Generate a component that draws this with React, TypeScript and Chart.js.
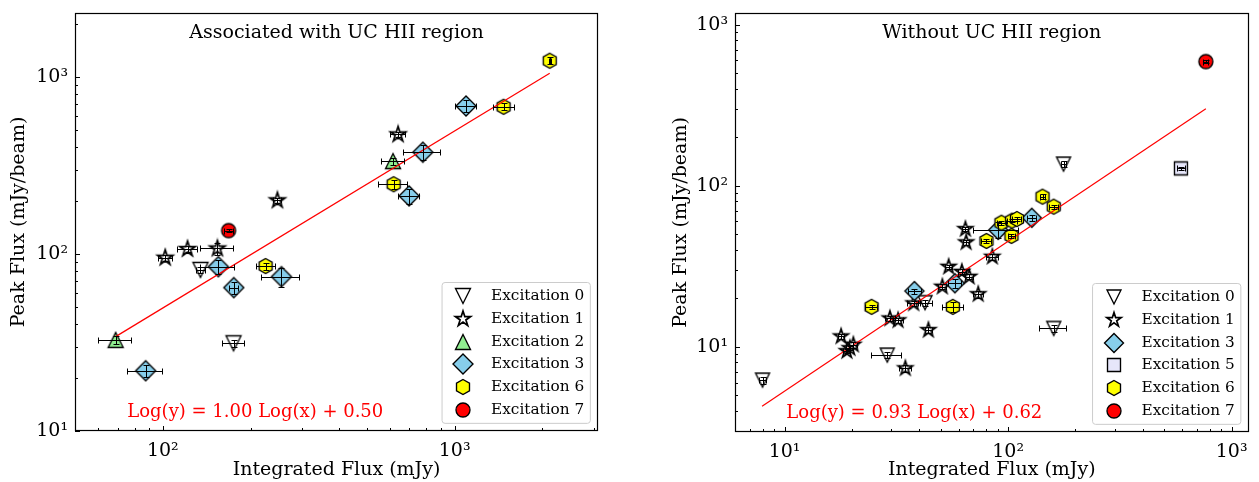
import { useEffect, useRef } from "react";
import { Chart, registerables } from "chart.js";

Chart.register(...registerables);

const SERIF = "'DejaVu Serif', 'Liberation Serif', serif";

// ---------- Panel 1: sources associated with a UC HII region ----------
const UC_EXC0_X = [134.6, 174.7];
const UC_EXC0_Y = [81.3, 31.3];
const UC_EXC0_XERR = [5, 15];
const UC_EXC0_YERR = [3, 1.5];

const UC_EXC1_X = [101.9, 121.5, 153.8, 247, 640];
const UC_EXC1_Y = [95.3, 106.7, 107.5, 201, 474];
const UC_EXC1_XERR = [6, 9.5, 19.5, 8, 38];
const UC_EXC1_YERR = [4, 4, 8.5, 7, 16];

const UC_EXC2_X = [68.9, 615];
const UC_EXC2_Y = [32.7, 335];
const UC_EXC2_XERR = [9, 55];
const UC_EXC2_YERR = [1.5, 15];

const UC_EXC3_X = [87.3, 155, 175, 255, 698, 778, 1094];
const UC_EXC3_Y = [21.9, 84.8, 64.6, 74.5, 213, 376, 686];
const UC_EXC3_XERR = [12, 21, 6, 38, 58, 110, 90];
const UC_EXC3_YERR = [1.8, 8, 5, 9, 21, 37, 54];

const UC_EXC6_X = [225, 618, 1472, 2118];
const UC_EXC6_Y = [85.5, 248, 679, 1236];
const UC_EXC6_XERR = [17, 70, 120, 20];
const UC_EXC6_YERR = [4, 14, 30, 55];

const UC_EXC7_X = [168];
const UC_EXC7_Y = [135.6];
const UC_EXC7_XERR = [6];
const UC_EXC7_YERR = [3];

const UC_FIT_SLOPE = 1.0;
const UC_FIT_OFFSET = -0.305;
const UC_FIT_RANGE = [68.9, 2118];
const UC_FIT_LABEL = "Log(y) = 1.00 Log(x) + 0.50";

// ---------- Panel 2: sources without a UC HII region ----------
const NO_EXC0_X = [7.97, 28.8, 42.5, 160, 177];
const NO_EXC0_Y = [6.21, 8.88, 18.8, 13.0, 136];
const NO_EXC0_XERR = [0.3, 4.5, 3, 22, 4];
const NO_EXC0_YERR = [0.3, 0.4, 0.8, 0.6, 6];

const NO_EXC1_X = [17.9, 19.0, 19.6, 20.3, 29.6, 32.2, 34.7, 37.8, 44.0, 50.8, 54.2, 62.1, 64.4, 64.9, 67.0, 73.5, 85.0];
const NO_EXC1_Y = [11.6, 9.4, 9.8, 10.3, 15.0, 14.6, 7.35, 18.6, 12.7, 23.6, 31.4, 29.2, 53.8, 44.5, 27.2, 21.2, 36.2];
const NO_EXC1_XERR = [0.6, 0.7, 0.7, 0.8, 1.5, 1.6, 2.1, 2.5, 1.6, 2, 2, 2.5, 2, 2, 3, 3.5, 5];
const NO_EXC1_YERR = [0.4, 0.3, 0.3, 0.4, 0.5, 0.5, 0.4, 0.7, 0.5, 0.9, 1, 1, 1.5, 1.5, 1, 1, 1.5];

const NO_EXC3_X = [38.1, 57.8, 90.3, 127.6];
const NO_EXC3_Y = [22.2, 24.8, 53.1, 63.2];
const NO_EXC3_XERR = [2.5, 4, 21, 6];
const NO_EXC3_YERR = [0.8, 1.5, 6, 3];

const NO_EXC5_X = [593];
const NO_EXC5_Y = [128];
const NO_EXC5_XERR = [25];
const NO_EXC5_YERR = [3];

const NO_EXC6_X = [24.5, 56.6, 80, 93.4, 103.5, 104.2, 109.6, 142.6, 160];
const NO_EXC6_Y = [17.7, 17.7, 45.4, 58.9, 48.8, 60.7, 62.1, 85.5, 74.1];
const NO_EXC6_XERR = [1.5, 6, 4, 4, 4, 5, 5, 4, 8];
const NO_EXC6_YERR = [0.6, 1.2, 1.2, 1.5, 1.2, 1.5, 1.5, 3, 2];

const NO_EXC7_X = [767];
const NO_EXC7_Y = [589];
const NO_EXC7_XERR = [20];
const NO_EXC7_YERR = [15];

const NO_FIT_SLOPE = 0.93;
const NO_FIT_OFFSET = -0.205;
const NO_FIT_RANGE = [7.93, 767];
const NO_FIT_LABEL = "Log(y) = 0.93 Log(x) + 0.62";

// Axis tick labels (powers of ten)
const POW_LABELS: Record<number, string> = { 10: "10\u00b9", 100: "10\u00b2", 1000: "10\u00b3" };
const UC_X_MAJOR = [100, 1000];
const UC_Y_MAJOR = [10, 100, 1000];
const NO_X_MAJOR = [10, 100, 1000];
const NO_Y_MAJOR = [10, 100, 1000];

const X_TITLE = "Integrated Flux (mJy)";
const Y_TITLE = "Peak Flux (mJy/beam)";

// ---------- marker glyphs ----------
type Shape = "star" | "hexagon" | "triDown" | "triUp" | "diamond" | "square" | "circle";

function markerImage(shape: Shape, fill: string, r: number): HTMLCanvasElement {
  const lw = shape === "star" ? 1.7 : 1.35;
  const size = 2 * Math.ceil(r + lw + 1);
  const c = document.createElement("canvas");
  c.width = size;
  c.height = size;
  const ctx = c.getContext("2d")!;
  ctx.translate(size / 2, size / 2);
  ctx.beginPath();
  if (shape === "circle") {
    ctx.arc(0, 0, r, 0, Math.PI * 2);
  } else if (shape === "square") {
    ctx.rect(-r, -r, 2 * r, 2 * r);
  } else if (shape === "diamond") {
    ctx.moveTo(0, -r);
    ctx.lineTo(r, 0);
    ctx.lineTo(0, r);
    ctx.lineTo(-r, 0);
    ctx.closePath();
  } else if (shape === "triUp") {
    ctx.moveTo(0, -r);
    ctx.lineTo(r, r);
    ctx.lineTo(-r, r);
    ctx.closePath();
  } else if (shape === "triDown") {
    ctx.moveTo(0, r);
    ctx.lineTo(r, -r);
    ctx.lineTo(-r, -r);
    ctx.closePath();
  } else if (shape === "hexagon") {
    for (let k = 0; k < 6; k++) {
      const a = -Math.PI / 2 + (k * Math.PI) / 3;
      const px = r * Math.cos(a);
      const py = r * Math.sin(a);
      if (k === 0) ctx.moveTo(px, py);
      else ctx.lineTo(px, py);
    }
    ctx.closePath();
  } else {
    const inner = r * 0.381966;
    for (let k = 0; k < 10; k++) {
      const a = -Math.PI / 2 + (k * Math.PI) / 5;
      const rr = k % 2 === 0 ? r : inner;
      const px = rr * Math.cos(a);
      const py = rr * Math.sin(a);
      if (k === 0) ctx.moveTo(px, py);
      else ctx.lineTo(px, py);
    }
    ctx.closePath();
  }
  ctx.fillStyle = fill;
  ctx.fill();
  ctx.lineWidth = lw;
  ctx.lineJoin = "miter";
  ctx.strokeStyle = "#000";
  ctx.stroke();
  return c;
}

type Group = {
  label: string;
  shape: Shape;
  fill: string;
  r: number;
  xs: number[];
  ys: number[];
  xerr: number[];
  yerr: number[];
};

type Panel = {
  title: string;
  fitLabel: string;
  fitSlope: number;
  fitOffset: number;
  fitRange: number[];
  groups: Group[];
  xMin: number;
  xMax: number;
  yMin: number;
  yMax: number;
  xMajor: number[];
  yMajor: number[];
  canvasLeft: number;
  canvasWidth: number;
  yAxisWidth: number;
  padRight: number;
  padTop: number;
  xAxisHeight: number;
  yTitlePad: number;
};

const HEIGHT = 482;

const UC_PANEL: Panel = {
  title: "Associated with UC HII region",
  fitLabel: UC_FIT_LABEL,
  fitSlope: UC_FIT_SLOPE,
  fitOffset: UC_FIT_OFFSET,
  fitRange: UC_FIT_RANGE,
  groups: [
    { label: "Excitation 0", shape: "triDown", fill: "#ffffff", r: 7.5, xs: UC_EXC0_X, ys: UC_EXC0_Y, xerr: UC_EXC0_XERR, yerr: UC_EXC0_YERR },
    { label: "Excitation 1", shape: "star", fill: "#ffffff", r: 8, xs: UC_EXC1_X, ys: UC_EXC1_Y, xerr: UC_EXC1_XERR, yerr: UC_EXC1_YERR },
    { label: "Excitation 2", shape: "triUp", fill: "#90ee90", r: 7.5, xs: UC_EXC2_X, ys: UC_EXC2_Y, xerr: UC_EXC2_XERR, yerr: UC_EXC2_YERR },
    { label: "Excitation 3", shape: "diamond", fill: "#87ceeb", r: 10, xs: UC_EXC3_X, ys: UC_EXC3_Y, xerr: UC_EXC3_XERR, yerr: UC_EXC3_YERR },
    { label: "Excitation 6", shape: "hexagon", fill: "#ffff00", r: 7.5, xs: UC_EXC6_X, ys: UC_EXC6_Y, xerr: UC_EXC6_XERR, yerr: UC_EXC6_YERR },
    { label: "Excitation 7", shape: "circle", fill: "#ff0000", r: 7, xs: UC_EXC7_X, ys: UC_EXC7_Y, xerr: UC_EXC7_XERR, yerr: UC_EXC7_YERR },
  ],
  xMin: 50,
  xMax: 3100,
  yMin: 10,
  yMax: 2300,
  xMajor: UC_X_MAJOR,
  yMajor: UC_Y_MAJOR,
  canvasLeft: 0,
  canvasWidth: 630,
  yAxisWidth: 75,
  padRight: 32,
  padTop: 13,
  xAxisHeight: 51,
  yTitlePad: 8,
};

const NO_PANEL: Panel = {
  title: "Without UC HII region",
  fitLabel: NO_FIT_LABEL,
  fitSlope: NO_FIT_SLOPE,
  fitOffset: NO_FIT_OFFSET,
  fitRange: NO_FIT_RANGE,
  groups: [
    { label: "Excitation 0", shape: "triDown", fill: "#ffffff", r: 7, xs: NO_EXC0_X, ys: NO_EXC0_Y, xerr: NO_EXC0_XERR, yerr: NO_EXC0_YERR },
    { label: "Excitation 1", shape: "star", fill: "#ffffff", r: 7.5, xs: NO_EXC1_X, ys: NO_EXC1_Y, xerr: NO_EXC1_XERR, yerr: NO_EXC1_YERR },
    { label: "Excitation 3", shape: "diamond", fill: "#87ceeb", r: 9.5, xs: NO_EXC3_X, ys: NO_EXC3_Y, xerr: NO_EXC3_XERR, yerr: NO_EXC3_YERR },
    { label: "Excitation 5", shape: "square", fill: "#e6e6fa", r: 6.5, xs: NO_EXC5_X, ys: NO_EXC5_Y, xerr: NO_EXC5_XERR, yerr: NO_EXC5_YERR },
    { label: "Excitation 6", shape: "hexagon", fill: "#ffff00", r: 7.5, xs: NO_EXC6_X, ys: NO_EXC6_Y, xerr: NO_EXC6_XERR, yerr: NO_EXC6_YERR },
    { label: "Excitation 7", shape: "circle", fill: "#ff0000", r: 7, xs: NO_EXC7_X, ys: NO_EXC7_Y, xerr: NO_EXC7_XERR, yerr: NO_EXC7_YERR },
  ],
  xMin: 6,
  xMax: 1190,
  yMin: 2.96,
  yMax: 1180,
  xMajor: NO_X_MAJOR,
  yMajor: NO_Y_MAJOR,
  canvasLeft: 630,
  canvasWidth: 629,
  yAxisWidth: 105,
  padRight: 2,
  padTop: 13,
  xAxisHeight: 50,
  yTitlePad: 40,
};

// Error bars, inward log ticks, frame, in-axes text and legend
function decorPlugin(panel: Panel) {
  const CAP = 3;
  return {
    id: "panelDecor",
    afterDatasetsDraw(chart: any) {
      const { ctx } = chart;
      const xs = chart.scales.x;
      const ys = chart.scales.y;
      ctx.save();
      ctx.strokeStyle = "#000";
      ctx.lineWidth = 1;
      chart.data.datasets.forEach((ds: any) => {
        if (ds.isFit) return;
        ds.data.forEach((p: any) => {
          const cx = Math.round(xs.getPixelForValue(p.x)) + 0.5;
          const cy = Math.round(ys.getPixelForValue(p.y)) + 0.5;
          ctx.beginPath();
          if (p.xerr) {
            const x0 = Math.round(xs.getPixelForValue(p.x - p.xerr)) + 0.5;
            const x1 = Math.round(xs.getPixelForValue(p.x + p.xerr)) + 0.5;
            ctx.moveTo(x0, cy);
            ctx.lineTo(x1, cy);
            ctx.moveTo(x0, cy - CAP);
            ctx.lineTo(x0, cy + CAP);
            ctx.moveTo(x1, cy - CAP);
            ctx.lineTo(x1, cy + CAP);
          }
          if (p.yerr) {
            const y0 = Math.round(ys.getPixelForValue(p.y - p.yerr)) + 0.5;
            const y1 = Math.round(ys.getPixelForValue(p.y + p.yerr)) + 0.5;
            ctx.moveTo(cx, y0);
            ctx.lineTo(cx, y1);
            ctx.moveTo(cx - CAP, y0);
            ctx.lineTo(cx + CAP, y0);
            ctx.moveTo(cx - CAP, y1);
            ctx.lineTo(cx + CAP, y1);
          }
          ctx.stroke();
        });
      });
      ctx.restore();
    },
    afterDraw(chart: any) {
      const { ctx, chartArea: a } = chart;
      const xs = chart.scales.x;
      const ys = chart.scales.y;
      ctx.save();

      // inward ticks on the log axes
      ctx.strokeStyle = "#000";
      ctx.lineWidth = 1;
      const logTicks = (min: number, max: number) => {
        const out: { v: number; major: boolean }[] = [];
        for (let e = Math.floor(Math.log10(min)); e <= Math.ceil(Math.log10(max)); e++) {
          for (let m = 1; m <= 9; m++) {
            const v = m * Math.pow(10, e);
            if (v >= min && v <= max) out.push({ v, major: m === 1 });
          }
        }
        return out;
      };
      ctx.beginPath();
      logTicks(panel.xMin, panel.xMax).forEach((t) => {
        const px = Math.round(xs.getPixelForValue(t.v)) + 0.5;
        const len = t.major ? 5 : 3;
        ctx.moveTo(px, a.bottom);
        ctx.lineTo(px, a.bottom - len);
      });
      logTicks(panel.yMin, panel.yMax).forEach((t) => {
        const py = Math.round(ys.getPixelForValue(t.v)) + 0.5;
        const len = t.major ? 5 : 3;
        ctx.moveTo(a.left, py);
        ctx.lineTo(a.left + len, py);
      });
      ctx.stroke();

      // frame
      ctx.lineWidth = 1.2;
      ctx.strokeRect(Math.round(a.left) + 0.5, Math.round(a.top) + 0.5, Math.round(a.right - a.left) - 1, Math.round(a.bottom - a.top) - 1);

      // title inside the axes
      ctx.fillStyle = "#000";
      ctx.font = `19px ${SERIF}`;
      ctx.textAlign = "center";
      ctx.textBaseline = "middle";
      ctx.fillText(panel.title, (a.left + a.right) / 2, a.top + 20.5);

      // fit equation
      ctx.fillStyle = "#ff0000";
      ctx.font = `18px ${SERIF}`;
      ctx.textAlign = "left";
      ctx.fillText(panel.fitLabel, a.left + 0.1 * (a.right - a.left), a.bottom - 18.5);

      // legend
      const fs = 15.3;
      ctx.font = `${fs}px ${SERIF}`;
      const items = chart.data.datasets.filter((d: any) => !d.isFit);
      const textW = Math.max(...items.map((d: any) => ctx.measureText(d.label).width));
      const pad = 0.4 * fs;
      const handle = 2 * fs;
      const gap = 0.8 * fs;
      const rowH = 22.65;
      const vPad = 13.8;
      const w = pad + handle + gap + textW + pad;
      const h = vPad * 2 + rowH * (items.length - 1);
      const bx = a.right - 0.5 * fs - w;
      const by = a.bottom - 0.5 * fs - h;
      const rad = 3;
      ctx.beginPath();
      ctx.moveTo(bx + rad, by);
      ctx.lineTo(bx + w - rad, by);
      ctx.arcTo(bx + w, by, bx + w, by + rad, rad);
      ctx.lineTo(bx + w, by + h - rad);
      ctx.arcTo(bx + w, by + h, bx + w - rad, by + h, rad);
      ctx.lineTo(bx + rad, by + h);
      ctx.arcTo(bx, by + h, bx, by + h - rad, rad);
      ctx.lineTo(bx, by + rad);
      ctx.arcTo(bx, by, bx + rad, by, rad);
      ctx.closePath();
      ctx.fillStyle = "rgba(255,255,255,0.8)";
      ctx.fill();
      ctx.strokeStyle = "#cccccc";
      ctx.lineWidth = 1;
      ctx.stroke();
      items.forEach((d: any, i: number) => {
        const ry = by + vPad + i * rowH;
        const img = d.pointStyle as HTMLCanvasElement;
        ctx.drawImage(img, Math.round(bx + pad + handle / 2 - img.width / 2), Math.round(ry - img.height / 2));
        ctx.fillStyle = "#000";
        ctx.textAlign = "left";
        ctx.textBaseline = "middle";
        ctx.fillText(d.label, bx + pad + handle + gap, ry);
      });

      ctx.restore();
    },
  };
}

function PanelChart({ panel }: { panel: Panel }) {
  const ref = useRef<HTMLCanvasElement | null>(null);

  useEffect(() => {
    if (!ref.current) return;
    const n = panel.groups.length;
    const datasets: any[] = [
      {
        label: "fit",
        isFit: true,
        showLine: true,
        data: panel.fitRange.map((x) => ({ x, y: Math.pow(10, panel.fitSlope * Math.log10(x) + panel.fitOffset) })),
        borderColor: "#ff0000",
        borderWidth: 1.2,
        pointRadius: 0,
        order: -1,
      },
      ...panel.groups.map((g, i) => ({
        label: g.label,
        data: g.xs.map((x, k) => ({ x, y: g.ys[k], xerr: g.xerr[k], yerr: g.yerr[k] })),
        pointStyle: markerImage(g.shape, g.fill, g.r),
        pointRadius: g.r,
        showLine: false,
        order: n - i,
      })),
    ];

    const tickFont = { family: SERIF, size: 19 };
    const titleFont = { family: SERIF, size: 19, lineHeight: 1.2 };

    const chart = new Chart(ref.current, {
      type: "scatter",
      data: { datasets },
      options: {
        animation: false,
        responsive: false,
        maintainAspectRatio: false,
        devicePixelRatio: 1,
        events: [],
        layout: { padding: { left: 0, right: panel.padRight, top: panel.padTop, bottom: 0 } },
        plugins: {
          legend: { display: false },
          tooltip: { enabled: false },
          title: { display: false },
        },
        scales: {
          x: {
            type: "logarithmic",
            position: "bottom",
            min: panel.xMin,
            max: panel.xMax,
            grid: { display: false, drawTicks: false },
            border: { display: false },
            ticks: {
              font: tickFont,
              color: "#000",
              padding: 9,
              autoSkip: false,
              maxRotation: 0,
              callback: (v: any) => POW_LABELS[Number(v)] ?? "",
            },
            afterBuildTicks: (s: any) => {
              s.ticks = panel.xMajor.map((value) => ({ value }));
            },
            afterFit: (s: any) => {
              s.height = panel.xAxisHeight;
              s.paddingLeft = 0;
              s.paddingRight = 0;
              s.paddingTop = 0;
              s.paddingBottom = 0;
            },
            title: {
              display: true,
              text: X_TITLE,
              color: "#000",
              font: titleFont,
              padding: { top: 0, bottom: 1 },
            },
          },
          y: {
            type: "logarithmic",
            position: "left",
            min: panel.yMin,
            max: panel.yMax,
            grid: { display: false, drawTicks: false },
            border: { display: false },
            ticks: {
              font: tickFont,
              color: "#000",
              padding: 7,
              autoSkip: false,
              callback: (v: any) => POW_LABELS[Number(v)] ?? "",
            },
            afterBuildTicks: (s: any) => {
              s.ticks = panel.yMajor.map((value) => ({ value }));
            },
            afterFit: (s: any) => {
              s.width = panel.yAxisWidth;
              s.paddingLeft = 0;
              s.paddingRight = 0;
              s.paddingTop = 0;
              s.paddingBottom = 0;
            },
            title: {
              display: true,
              text: Y_TITLE,
              color: "#000",
              font: titleFont,
              padding: { top: panel.yTitlePad, bottom: 0 },
            },
          },
        },
      } as any,
      plugins: [decorPlugin(panel)],
    });
    return () => chart.destroy();
  }, [panel]);

  return (
    <canvas
      ref={ref}
      width={panel.canvasWidth}
      height={HEIGHT}
      style={{
        position: "absolute",
        left: panel.canvasLeft,
        top: 0,
        width: panel.canvasWidth,
        height: HEIGHT,
      }}
    />
  );
}

export default function App() {
  return (
    <div
      style={{
        position: "absolute",
        left: 0,
        top: 0,
        width: 1259,
        height: HEIGHT,
        background: "#ffffff",
        overflow: "hidden",
      }}
    >
      <PanelChart panel={UC_PANEL} />
      <PanelChart panel={NO_PANEL} />
    </div>
  );
}
